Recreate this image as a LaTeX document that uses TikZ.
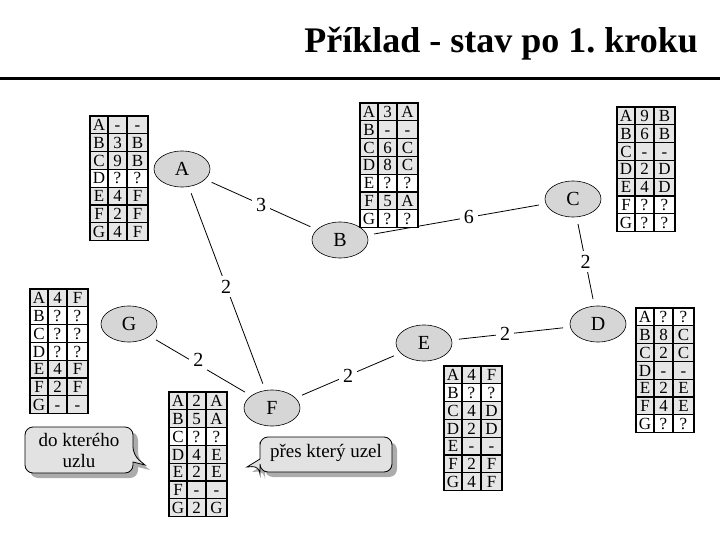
\documentclass[tikz,border=0pt]{standalone}
\usepackage{fontspec}
\setmainfont{Liberation Serif}
\usetikzlibrary{shapes.geometric,shadows}

\definecolor{rowgray}{HTML}{E6E6E6}
\definecolor{nodegray}{HTML}{D6D6D6}
\definecolor{bubblegray}{HTML}{E2E2E2}

\tikzset{
  uzel/.style={ellipse,draw,fill=nodegray,line width=0.6pt,minimum width=56pt,minimum height=36pt,inner sep=0pt,font=\fontsize{20}{22}\selectfont},
  hrana/.style={line width=0.8pt,shorten >=7pt,shorten <=7pt},
  cena/.style={fill=white,inner sep=4pt,font=\fontsize{20}{22}\selectfont},
  cell/.style={inner sep=0pt,anchor=base,font=\fontsize{17}{19}\selectfont},
  tabline/.style={line width=1.2pt},
  bublina/.style={draw,line width=0.8pt,fill=bubblegray,drop shadow={shadow xshift=5pt,shadow yshift=-5pt,fill=gray!65,opacity=1}},
}

% routing table: name, top-left corner, rows name/distance/via/colour
\newcommand{\routetab}[3]{%
  \begin{scope}[shift={#2}]
    \foreach \n/\d/\v/\c [count=\i from 0] in {#3} {
      \fill[\c] (0,\i*17.8) rectangle (58,\i*17.8+17.8);
      \node[cell] (#1-\i-a) at (9,\i*17.8+14.6) {\n};
      \node[cell] (#1-\i-b) at (27.5,\i*17.8+14.6) {\d};
      \node[cell] (#1-\i-c) at (47.5,\i*17.8+14.6) {\v};
    }
    \draw[tabline] (0,0) rectangle (58,124.6);
    \foreach \k in {1,...,6} \draw[tabline] (0,\k*17.8) -- (58,\k*17.8);
    \draw[tabline] (18,0) -- (18,124.6) (37,0) -- (37,124.6);
  \end{scope}}

\begin{document}
\frenchspacing
\begin{tikzpicture}[x=1pt,y=-1pt]
\useasboundingbox (0,0) rectangle (720,540);

% title
\node[anchor=base east,inner sep=0pt,font=\bfseries\fontsize{36}{40}\selectfont] (nadpis) at (698,53) {Příklad - stav po 1. kroku};
\draw[line width=3pt] (0,79) -- (720,79);

% nodes
\node[uzel] (A) at (182,169) {A};
\node[uzel] (B) at (340,240) {B};
\node[uzel] (C) at (573,199) {C};
\node[uzel] (D) at (598,324) {D};
\node[uzel] (E) at (424,343) {E};
\node[uzel] (F) at (272,408) {F};
\node[uzel] (G) at (129,324) {G};

% links
\draw[hrana] (A) -- node[cena] {3} (B);
\draw[hrana] (A) -- node[cena,pos=.49] {2} (F);
\draw[hrana] (B) -- node[cena,pos=.57] {6} (C);
\draw[hrana] (C) -- node[cena] {2} (D);
\draw[hrana] (D) -- node[cena,pos=.55] {2} (E);
\draw[hrana] (E) -- node[cena] {2} (F);
\draw[hrana] (G) -- node[cena,pos=.48,yshift=5pt] {2} (F);

% tables
\routetab{tA}{(90,116)}{A/-/-/rowgray, B/3/B/rowgray, C/9/B/rowgray, D/?/?/white, E/4/F/rowgray, F/2/F/rowgray, G/4/F/rowgray}
\routetab{tB}{(360,103)}{A/3/A/rowgray, B/-/-/rowgray, C/6/C/rowgray, D/8/C/rowgray, E/?/?/white, F/5/A/rowgray, G/?/?/white}
\routetab{tC}{(617,107)}{A/9/B/rowgray, B/6/B/rowgray, C/-/-/rowgray, D/2/D/rowgray, E/4/D/rowgray, F/?/?/white, G/?/?/white}
\routetab{tG}{(30,289)}{A/4/F/rowgray, B/?/?/white, C/?/?/white, D/?/?/white, E/4/F/rowgray, F/2/F/rowgray, G/-/-/rowgray}
\routetab{tF}{(169,392)}{A/2/A/rowgray, B/5/A/rowgray, C/?/?/white, D/4/E/rowgray, E/2/E/rowgray, F/-/-/rowgray, G/2/G/rowgray}
\routetab{tE}{(444,366)}{A/4/F/rowgray, B/?/?/white, C/4/D/rowgray, D/2/D/rowgray, E/-/-/rowgray, F/2/F/rowgray, G/4/F/rowgray}
\routetab{tD}{(636,308)}{A/?/?/white, B/8/C/rowgray, C/2/C/rowgray, D/-/-/rowgray, E/2/E/rowgray, F/4/E/rowgray, G/?/?/white}

% callouts
\draw[bublina,rounded corners=8pt] (25,450) |- (133,427) -- (133,455)
  [sharp corners] -- (145,465) -- (133,462) [rounded corners=8pt] |- (25,473) -- cycle;
\node[align=center,inner sep=0pt,font=\fontsize{19}{21}\selectfont] (doUzlu) at (79,450) {do kterého\\uzlu};

\draw[bublina,rounded corners=8pt] (260,450) |- (392,437) |- (260,472) -- (260,466)
  [sharp corners] -- (247,467) -- (260,459) [rounded corners=8pt] -- cycle;
\node[inner sep=0pt,font=\fontsize{19}{21}\selectfont] (presUzel) at (326,453) {přes který uzel};
\end{tikzpicture}
\end{document}
